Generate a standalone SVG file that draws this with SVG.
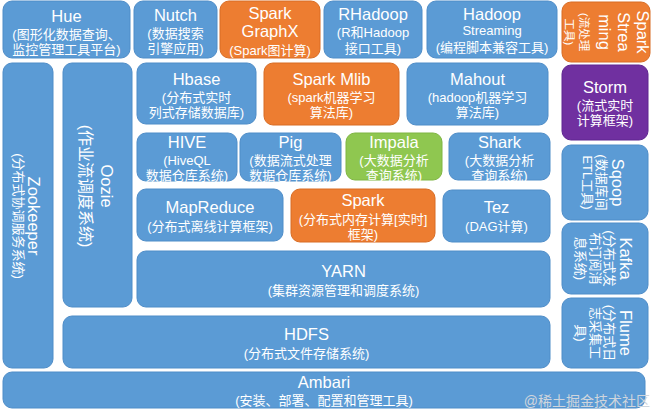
<svg xmlns="http://www.w3.org/2000/svg" width="655" height="413" viewBox="0 0 655 413">
<style>
  .b { fill:#5b9bd5; stroke:#4f8dc8; stroke-width:1; }
  .o { fill:#ed7d31; stroke:#d86d25; stroke-width:1; }
  .g { fill:#8fc750; stroke:#7fb543; stroke-width:1; }
  .p { fill:#7030a0; stroke:#5f2690; stroke-width:1; }
  text { font-family:"Liberation Sans","Noto Sans CJK SC",sans-serif; fill:#ffffff; text-anchor:middle; }
  .t { font-size:16.5px; }
  .s { font-size:13px; }
  .wm { font-size:14px; fill:#cfd5dc; text-anchor:end; }
</style>
<rect width="655" height="413" fill="#ffffff"/>
<g id="connectors"/>

<g id="hue"><rect class="b" x="3" y="1" width="127" height="57" rx="9"/>
<text x="66.5" y="22" class="t">Hue</text><text x="66.5" y="39" class="s">(图形化数据查询、</text><text x="66.5" y="54" class="s">监控管理工具平台)</text></g>

<g id="nutch"><rect class="b" x="134" y="1" width="83" height="57" rx="9"/>
<text x="175.5" y="21" class="t">Nutch</text><text x="175.5" y="38" class="s">(数据搜索</text><text x="175.5" y="53" class="s">引擎应用)</text></g>

<g id="graphx"><rect class="o" x="220" y="1" width="100" height="57" rx="9"/>
<text x="270" y="19" class="t">Spark</text><text x="270" y="37" class="t">GraphX</text><text x="270" y="55" class="s">(Spark图计算)</text></g>

<g id="rhadoop"><rect class="b" x="324" y="1" width="98" height="57" rx="9"/>
<text x="373" y="20" class="t">RHadoop</text><text x="373" y="37" class="s">(R和Hadoop</text><text x="373" y="53" class="s">接口工具)</text></g>

<g id="hadoop-streaming"><rect class="b" x="427" y="1" width="130" height="57" rx="9"/>
<text x="492" y="20" class="t">Hadoop</text><text x="492" y="35" class="s">Streaming</text><text x="492" y="52" class="s">(编程脚本兼容工具)</text></g>

<g id="spark-streaming"><rect class="o" x="562" y="2" width="88" height="60" rx="9"/>
<text transform="translate(637,32) rotate(90)"><tspan x="0" y="0" class="t">Spark</tspan><tspan x="0" y="19" class="t">Strea</tspan><tspan x="0" y="38" class="t">ming</tspan><tspan x="0" y="57" style="font-size:11.5px">(流处理</tspan><tspan x="0" y="72" style="font-size:11.5px">工具)</tspan></text></g>

<g id="zookeeper"><rect class="b" x="3" y="63" width="50" height="305" rx="9"/>
<text transform="translate(28,216) rotate(90)"><tspan x="0" y="0" class="t">Zookeeper</tspan><tspan x="0" y="14" class="s">(分布式协调服务系统)</tspan></text></g>

<g id="oozie"><rect class="b" x="63" y="63" width="69" height="244" rx="9"/>
<text transform="translate(101,186) rotate(90)"><tspan x="0" y="0" class="t">Oozie</tspan><tspan x="0" y="21" style="font-size:16px">(作业流调度系统)</tspan></text></g>

<g id="hbase"><rect class="b" x="137" y="63" width="119" height="61" rx="9"/>
<text x="196.5" y="85" class="t">Hbase</text><text x="196.5" y="102" class="s">(分布式实时</text><text x="196.5" y="117" class="s">列式存储数据库)</text></g>

<g id="spark-mlib"><rect class="o" x="264" y="63" width="135" height="62" rx="9"/>
<text x="331.5" y="85" class="t">Spark Mlib</text><text x="331.5" y="102" class="s">(spark机器学习</text><text x="331.5" y="117" class="s">算法库)</text></g>

<g id="mahout"><rect class="b" x="407" y="63" width="141" height="62" rx="9"/>
<text x="477.5" y="85" class="t">Mahout</text><text x="477.5" y="102" class="s">(hadoop机器学习</text><text x="477.5" y="117" class="s">算法库)</text></g>

<g id="storm"><rect class="p" x="562" y="65" width="86" height="75" rx="9"/>
<text x="605" y="93" class="t">Storm</text><text x="605" y="110" class="s">(流式实时</text><text x="605" y="125" class="s">计算框架)</text></g>

<g id="hive"><rect class="b" x="137" y="133" width="100" height="48" rx="9"/>
<text x="187" y="148" class="t">HIVE</text><text x="187" y="165" class="s">(HiveQL</text><text x="187" y="180" class="s">数据仓库系统)</text></g>

<g id="pig"><rect class="b" x="240" y="133" width="101" height="48" rx="9"/>
<text x="290.5" y="148" class="t">Pig</text><text x="290.5" y="165" class="s">(数据流式处理</text><text x="290.5" y="180" class="s">数据仓库系统)</text></g>

<g id="impala"><rect class="g" x="346" y="133" width="96" height="47" rx="9"/>
<text x="394" y="148" class="t">Impala</text><text x="394" y="165" class="s">(大数据分析</text><text x="394" y="180" class="s">查询系统)</text></g>

<g id="shark"><rect class="b" x="449" y="133" width="101" height="47" rx="9"/>
<text x="499.5" y="148" class="t">Shark</text><text x="499.5" y="165" class="s">(大数据分析</text><text x="499.5" y="180" class="s">查询系统)</text></g>

<g id="sqoop"><rect class="b" x="562" y="145" width="86" height="75" rx="9"/>
<text transform="translate(612,182.5) rotate(90)"><tspan x="0" y="0" class="t">Sqoop</tspan><tspan x="0" y="15" class="s">(数据库间</tspan><tspan x="0" y="29.5" class="s">ETL工具)</tspan></text></g>

<g id="mapreduce"><rect class="b" x="137" y="189" width="146" height="52" rx="9"/>
<text x="210" y="213" class="t">MapReduce</text><text x="210" y="231" class="s">(分布式离线计算框架)</text></g>

<g id="spark"><rect class="o" x="291" y="189" width="144" height="53" rx="9"/>
<text x="363" y="206" class="t">Spark</text><text x="363" y="224" class="s">(分布式内存计算[实时]</text><text x="363" y="239" class="s">框架)</text></g>

<g id="tez"><rect class="b" x="443" y="190" width="107" height="52" rx="9"/>
<text x="496.5" y="213" class="t">Tez</text><text x="496.5" y="231" class="s">(DAG计算)</text></g>

<g id="kafka"><rect class="b" x="562" y="223" width="86" height="71" rx="9"/>
<text transform="translate(620,258.5) rotate(90)"><tspan x="0" y="0" class="t">Kafka</tspan><tspan x="0" y="15" class="s">(分布式发</tspan><tspan x="0" y="29.5" class="s">布订阅消</tspan><tspan x="0" y="44" class="s">息系统)</tspan></text></g>

<g id="yarn"><rect class="b" x="137" y="251" width="413" height="56" rx="9"/>
<text x="343.5" y="277" class="t">YARN</text><text x="343.5" y="295" class="s">(集群资源管理和调度系统)</text></g>

<g id="hdfs"><rect class="b" x="63" y="316" width="487" height="52" rx="9"/>
<text x="306.5" y="340" class="t">HDFS</text><text x="306.5" y="358" class="s">(分布式文件存储系统)</text></g>

<g id="flume"><rect class="b" x="562" y="298" width="86" height="70" rx="9"/>
<text transform="translate(620,333) rotate(90)"><tspan x="0" y="0" class="t">Flume</tspan><tspan x="0" y="15" class="s">(分布式日</tspan><tspan x="0" y="29.5" class="s">志采集工</tspan><tspan x="0" y="44" class="s">具)</tspan></text></g>

<g id="ambari"><rect class="b" x="3" y="372" width="642" height="36" rx="9"/>
<text x="324" y="388" class="t">Ambari</text><text x="324" y="405" class="s">(安装、部署、配置和管理工具)</text></g>

<text x="650" y="406" class="wm">@稀土掘金技术社区</text>
</svg>
